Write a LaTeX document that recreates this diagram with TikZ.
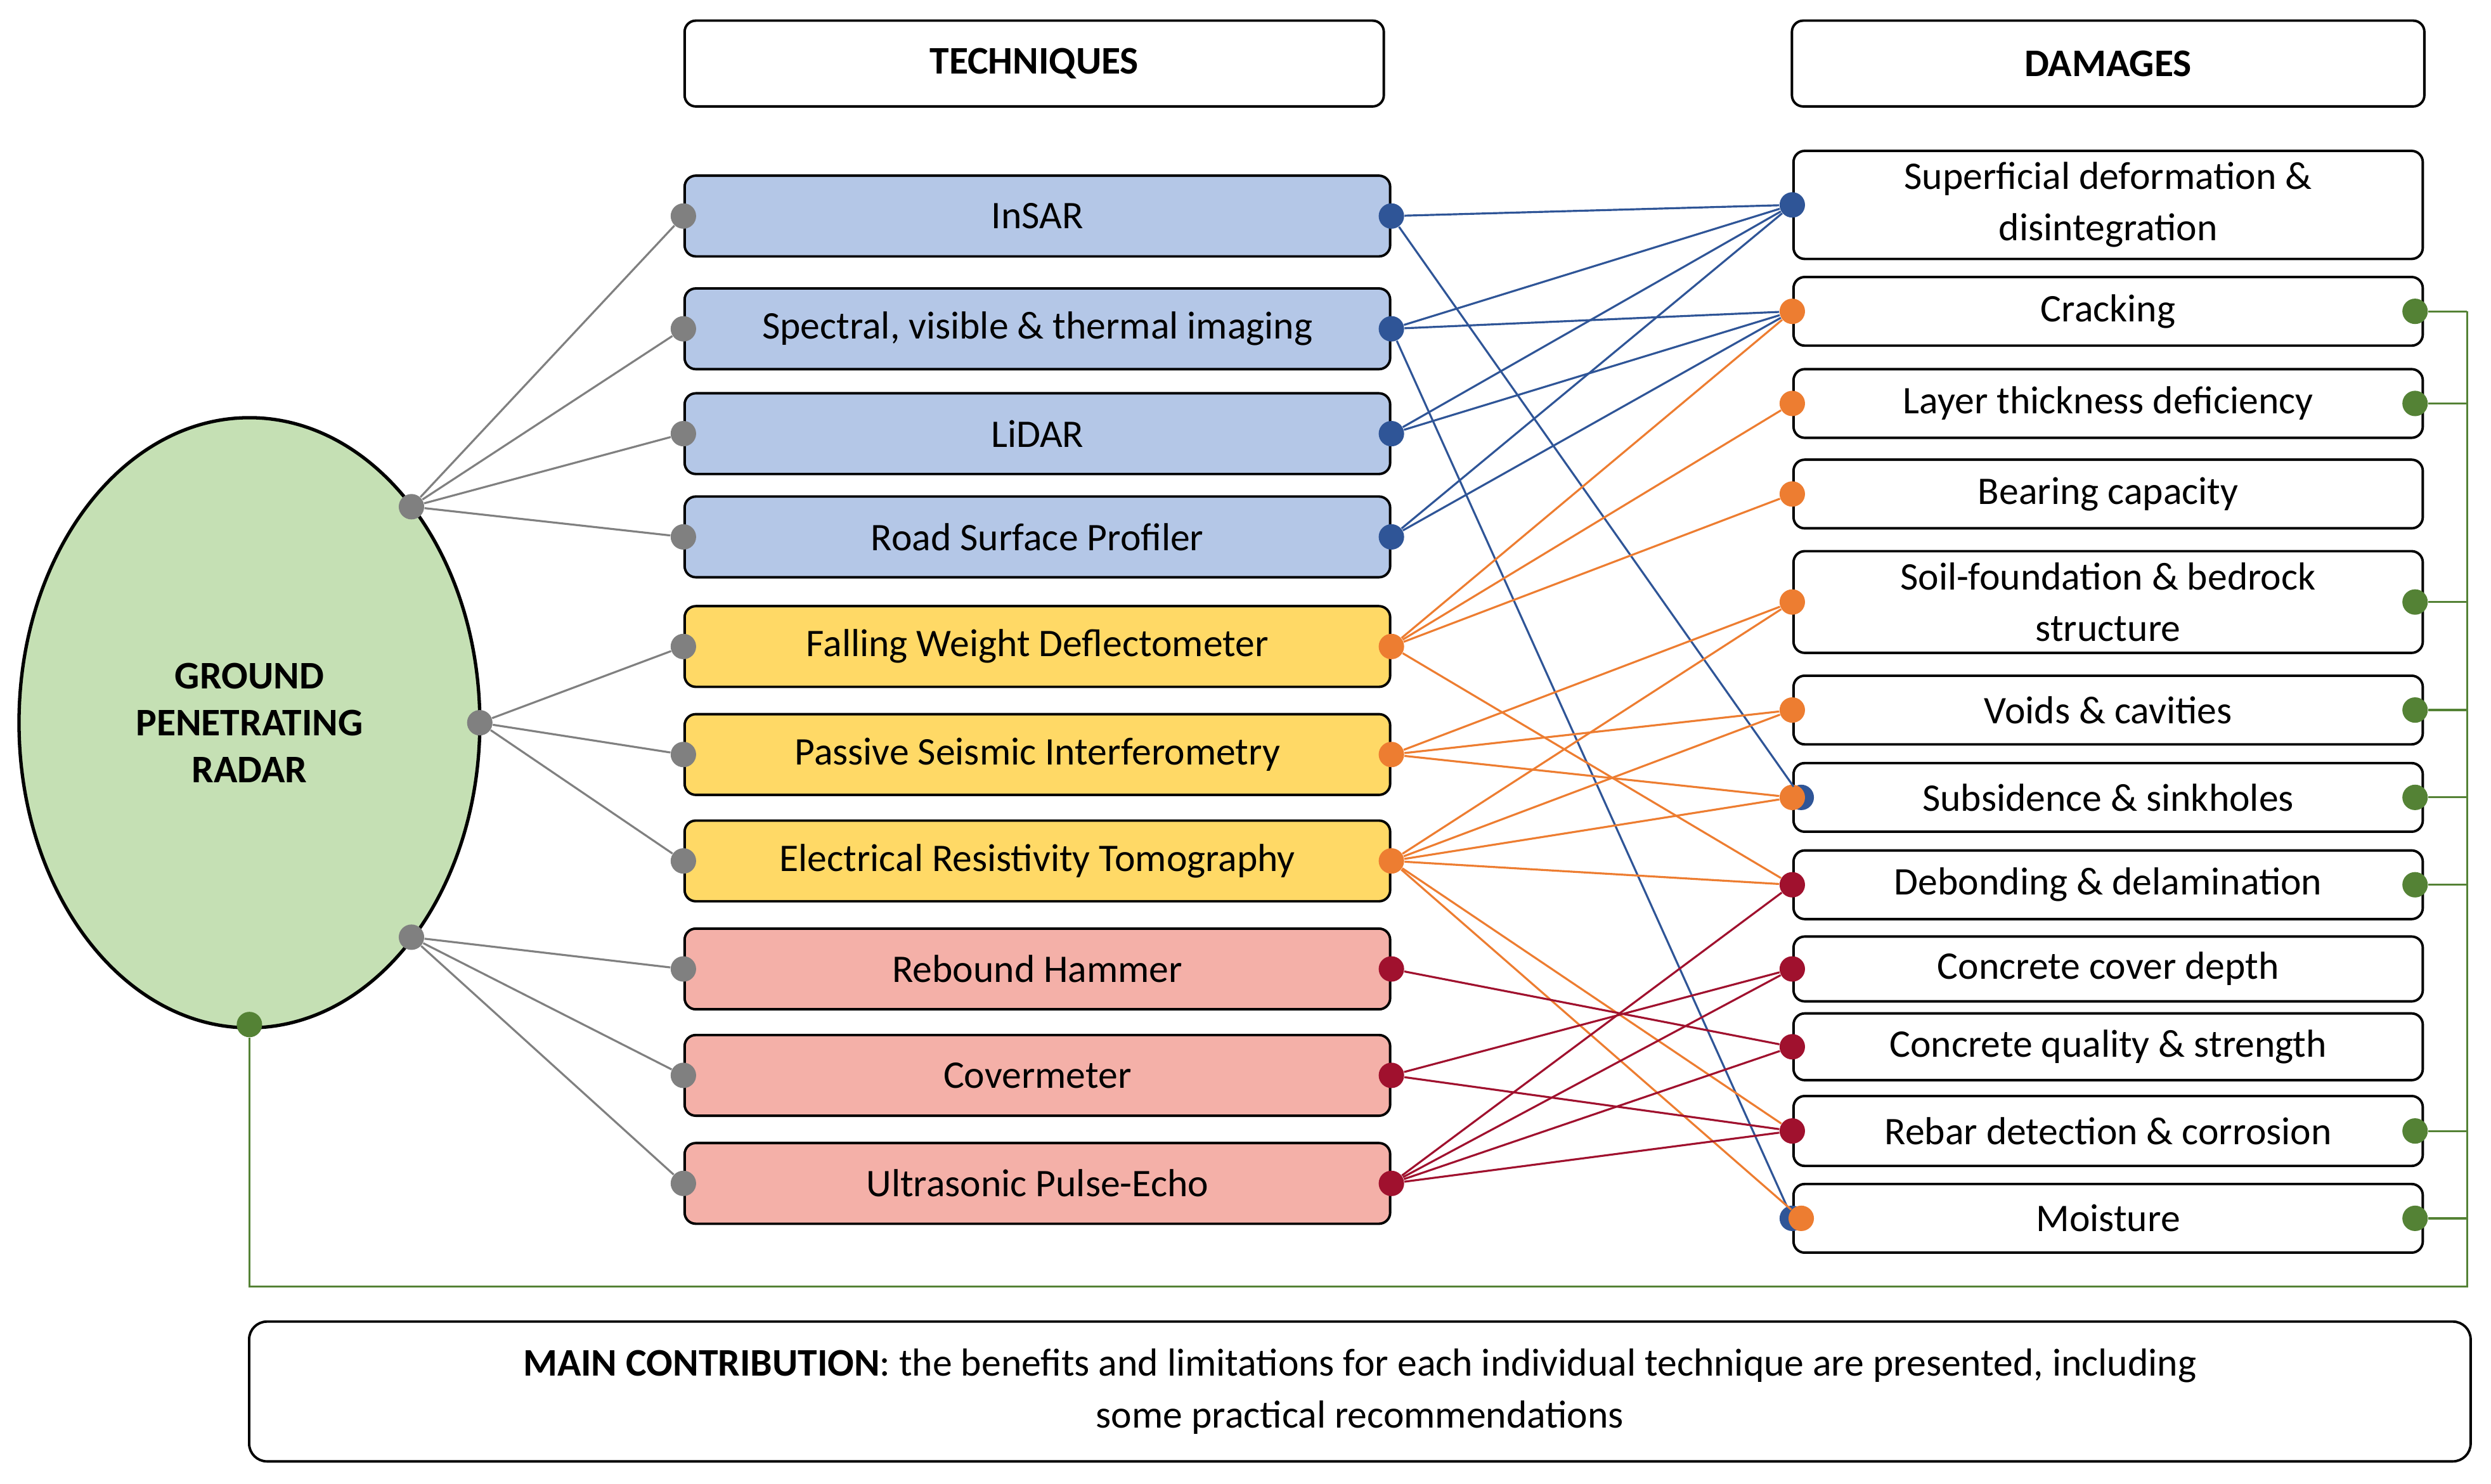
\documentclass[tikz,border=0pt]{standalone}
\usepackage{fontspec}
\setmainfont{Carlito}
\usetikzlibrary{shapes.geometric}
\definecolor{gprgreen}{HTML}{C5E0B4}
\definecolor{linkgreen}{HTML}{548235}
\definecolor{techblue}{HTML}{B4C7E7}
\definecolor{techyellow}{HTML}{FFD966}
\definecolor{techred}{HTML}{F4B0A8}
\definecolor{dotblue}{HTML}{2F5597}
\definecolor{dotorange}{HTML}{ED7D31}
\definecolor{dotred}{HTML}{A0112E}
\definecolor{dotgray}{HTML}{808080}
\begin{document}
\begin{tikzpicture}[x=0.025cm,y=-0.025cm,
    font=\fontsize{17.5}{23}\selectfont,
    box/.style={draw,rounded corners=5pt,line width=1.1pt,align=center,inner sep=2pt},
    tech/.style={box,minimum width=11.1cm,minimum height=1.27cm},
    dmg/.style={box,minimum width=9.9cm,minimum height=1.08cm},
    dot/.style={circle,fill=#1,inner sep=0pt,minimum size=0.4cm},
    link/.style={draw=#1,line width=0.9pt}]
  \useasboundingbox (0,0) rectangle (1568,934);

  % headers
  \node[box,minimum width=11cm,minimum height=1.35cm] (techhead) at (651,40) {\textbf{TECHNIQUES}};
  \node[box,minimum width=9.95cm,minimum height=1.35cm] (dmghead) at (1327,40) {\textbf{DAMAGES}};

  % GPR
  \node[draw,ellipse,line width=1.5pt,fill=gprgreen,minimum width=7.25cm,minimum height=9.6cm,
        align=center,font=\fontsize{17.5}{21}\selectfont\bfseries] (gpr) at (157,455)
        {GROUND\\PENETRATING\\RADAR};
  \node[dot=dotgray] (g1) at (259,319) {};
  \node[dot=dotgray] (g2) at (302,455) {};
  \node[dot=dotgray] (g3) at (259,590) {};
  \node[dot=linkgreen] (g4) at (157,645) {};

  % techniques
  \foreach \n/\y/\c/\d/\t in {t1/136/techblue/dotblue/InSAR,
      t2/207/techblue/dotblue/{Spectral, visible \& thermal imaging},
      t3/273/techblue/dotblue/LiDAR,
      t4/338/techblue/dotblue/Road Surface Profiler,
      t5/407/techyellow/dotorange/Falling Weight Deflectometer,
      t6/475/techyellow/dotorange/Passive Seismic Interferometry,
      t7/542/techyellow/dotorange/Electrical Resistivity Tomography,
      t8/610/techred/dotred/Rebound Hammer,
      t9/677/techred/dotred/Covermeter,
      t10/745/techred/dotred/Ultrasonic Pulse-Echo}{
    \node[tech,fill=\c] (\n) at (653,\y) {\t};
    \node[dot=dotgray] (\n l) at (\n.west) {};
    \node[dot=\d] (\n r) at (\n.east) {};
  }

  % damages
  \foreach \n/\y/\h/\t in {d1/129/1.7cm/{Superficial deformation \&\\disintegration},
      d2/196/1.08cm/Cracking,
      d3/254/1.08cm/Layer thickness deficiency,
      d4/311/1.08cm/Bearing capacity,
      d5/379/1.6cm/{Soil-foundation \& bedrock\\structure},
      d6/447/1.08cm/Voids \& cavities,
      d7/502/1.08cm/Subsidence \& sinkholes,
      d8/557/1.08cm/Debonding \& delamination,
      d9/610/1.02cm/Concrete cover depth,
      d10/659/1.05cm/Concrete quality \& strength,
      d11/712/1.1cm/Rebar detection \& corrosion,
      d12/767/1.08cm/Moisture}{
    \node[dmg,minimum height=\h] (\n) at (1327,\y) {\t};
  }

  % gray links
  \foreach \a/\b in {g1/t1l,g1/t2l,g1/t3l,g1/t4l,g2/t5l,g2/t6l,g2/t7l,g3/t8l,g3/t9l,g3/t10l}
    \draw[link=dotgray] (\a) -- (\b);

  % damage dots
  \node[dot=dotblue] (d1l) at (d1.west) {};
  \node[dot=dotorange] (d2l) at (d2.west) {};
  \node[dot=dotorange] (d3l) at (d3.west) {};
  \node[dot=dotorange] (d4l) at (d4.west) {};
  \node[dot=dotorange] (d5l) at (d5.west) {};
  \node[dot=dotorange] (d6l) at (d6.west) {};
  \node[dot=dotblue] (d7b) at ([xshift=4pt]d7.west) {};
  \node[dot=dotorange] (d7l) at (d7.west) {};
  \node[dot=dotred] (d8l) at (d8.west) {};
  \node[dot=dotred] (d9l) at (d9.west) {};
  \node[dot=dotred] (d10l) at (d10.west) {};
  \node[dot=dotred] (d11l) at (d11.west) {};
  \node[dot=dotblue] (d12b) at (d12.west) {};
  \node[dot=dotorange] (d12l) at ([xshift=4pt]d12.west) {};

  % blue links
  \foreach \a/\b in {t1r/d1l,t1r/d7b,t2r/d1l,t2r/d2l,t2r/d12b,t3r/d1l,t3r/d2l,t4r/d1l,t4r/d2l}
    \draw[link=dotblue] (\a) -- (\b);
  % orange links
  \foreach \a/\b in {t5r/d2l,t5r/d3l,t5r/d4l,t5r/d8l,t6r/d5l,t6r/d6l,t6r/d7l,
      t7r/d5l,t7r/d6l,t7r/d7l,t7r/d8l,t7r/d11l,t7r/d12l}
    \draw[link=dotorange] (\a) -- (\b);
  % red links
  \foreach \a/\b in {t8r/d10l,t9r/d9l,t9r/d11l,t10r/d8l,t10r/d9l,t10r/d10l,t10r/d11l}
    \draw[link=dotred] (\a) -- (\b);

  % green bracket back to GPR
  \coordinate (rail) at (1553,810);
  \foreach \n in {d2,d3,d5,d6,d7,d8,d11,d12}{
    \node[dot=linkgreen] (\n r) at ([xshift=-4pt]\n.east) {};
    \draw[link=linkgreen] (\n r) -- (\n r -| rail);
  }
  \draw[link=linkgreen] (d2r -| rail) -- (rail) -| (g4);

  % contribution
  \node[box,rounded corners=8pt,minimum width=34.95cm,minimum height=2.2cm] (main) at (856,876)
    {\textbf{MAIN CONTRIBUTION}: the benefits and limitations for each individual technique are presented, including\\
     some practical recommendations};
\end{tikzpicture}
\end{document}
